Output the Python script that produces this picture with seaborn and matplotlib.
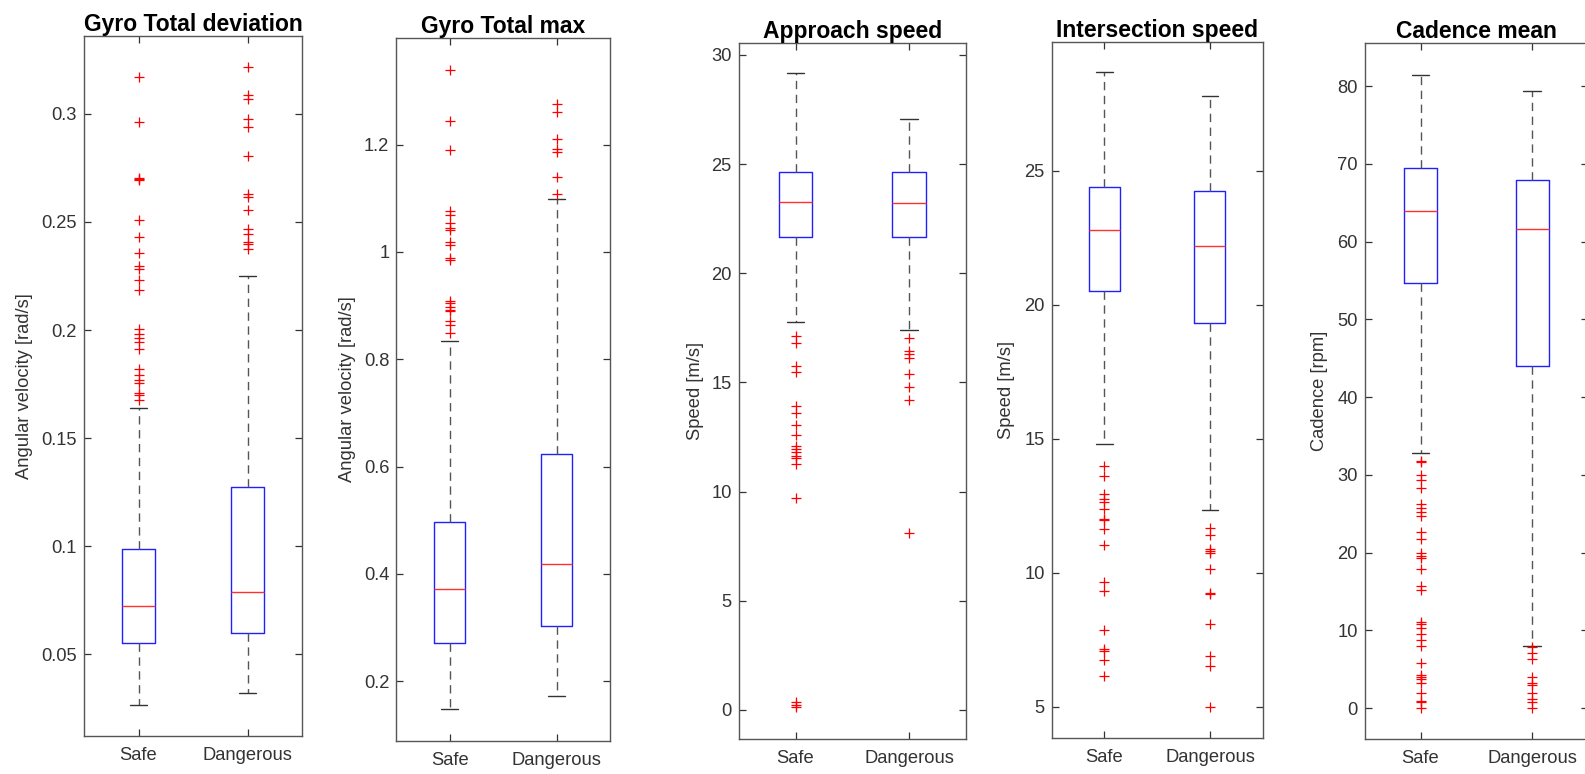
import matplotlib
matplotlib.use("Agg")
import matplotlib.pyplot as plt
from matplotlib.ticker import FuncFormatter
import numpy as np
import pandas as pd
import seaborn as sns

# ---- data -------------------------------------------------------------
groups = ["Safe", "Dangerous"]

titles = ["Gyro Total deviation", "Gyro Total max", "Approach speed",
          "Intersection speed", "Cadence mean"]
ylabels = ["Angular velocity [rad/s]", "Angular velocity [rad/s]",
           "Speed [m/s]", "Speed [m/s]", "Cadence [rpm]"]

# box summaries: [lower whisker, Q1, median, Q3, upper whisker]
gyro_dev_safe = [0.0267, 0.0552, 0.0725, 0.0988, 0.1637]
gyro_dev_danger = [0.0319, 0.0599, 0.0790, 0.1276, 0.2252]
gyro_max_safe = [0.1478, 0.2720, 0.3726, 0.4975, 0.8336]
gyro_max_danger = [0.1726, 0.3036, 0.4190, 0.6237, 1.0980]
approach_safe = [17.78, 21.68, 23.26, 24.66, 29.16]
approach_danger = [17.40, 21.66, 23.20, 24.66, 27.06]
inter_safe = [14.81, 20.52, 22.78, 24.39, 28.67]
inter_danger = [12.32, 19.33, 22.18, 24.25, 27.80]
cadence_safe = [32.88, 54.63, 63.93, 69.49, 81.45]
cadence_danger = [8.05, 44.00, 61.67, 67.90, 79.40]

# outliers
gyro_dev_safe_out = [0.317, 0.296, 0.2705, 0.270, 0.2695, 0.251, 0.243, 0.2355,
                     0.2295, 0.228, 0.223, 0.2185, 0.2005, 0.198, 0.1965, 0.1945,
                     0.191, 0.182, 0.179, 0.177, 0.1755, 0.1708, 0.1700, 0.1674]
gyro_dev_danger_out = [0.3215, 0.3085, 0.307, 0.2975, 0.294, 0.2805, 0.2628,
                       0.2616, 0.2557, 0.2465, 0.2442, 0.2405, 0.2400, 0.2374]
gyro_max_safe_out = [1.3387, 1.2447, 1.1907, 1.076, 1.0686, 1.0535, 1.044, 1.041,
                     1.018, 1.013, 0.9894, 0.984, 0.909, 0.905, 0.898, 0.891,
                     0.889, 0.871, 0.8646, 0.849]
gyro_max_danger_out = [1.2753, 1.2615, 1.210, 1.192, 1.187, 1.140, 1.1075]
approach_safe_out = [17.14, 16.79, 15.76, 15.49, 13.90, 13.58, 13.06, 12.60, 12.10,
                     11.94, 11.83, 11.64, 11.53, 11.26, 9.73, 0.35, 0.23, 0.12]
approach_danger_out = [17.02, 16.45, 16.30, 16.12, 15.39, 14.77, 14.21, 8.12]
inter_safe_out = [13.97, 13.62, 12.95, 12.73, 12.64, 12.36, 12.01, 11.95, 11.64,
                  11.02, 9.65, 9.30, 7.85, 7.16, 7.07, 6.75, 6.13]
inter_danger_out = [11.66, 11.39, 10.90, 10.80, 10.73, 10.12, 9.24, 9.19, 8.10,
                    6.90, 6.50, 5.0]
cadence_safe_out = [31.76, 31.6, 30.05, 29.4, 28.37, 26.2, 25.7, 25.2, 24.7, 22.65,
                    21.8, 19.9, 19.6, 19.35, 17.9, 15.75, 15.2, 11.1, 10.8, 10.27,
                    9.5, 8.78, 8.05, 5.86, 4.28, 4.06, 3.77, 3.21, 1.93, 0.94,
                    0.77, 0.0]
cadence_danger_out = [7.9, 7.15, 6.3, 4.06, 3.2, 3.0, 1.93, 1.16, 0.85, 0.0]

y_ticks = [
    [0.05, 0.1, 0.15, 0.2, 0.25, 0.3],
    [0.2, 0.4, 0.6, 0.8, 1.0, 1.2],
    [0, 5, 10, 15, 20, 25, 30],
    [5, 10, 15, 20, 25],
    [0, 10, 20, 30, 40, 50, 60, 70, 80],
]

# ---- layout -----------------------------------------------------------
W, H = 1585, 774
y_limits = [(0.0122, 0.336), (0.089, 1.398), (-1.33, 30.56), (3.82, 29.81),
            (-3.95, 85.49)]
# axes boxes in pixels: left, top, right, bottom
boxes_px = [(84, 36, 302, 736), (396.3, 38.3, 610, 740.7),
            (738.7, 42.7, 966, 739), (1051.7, 41.7, 1262.7, 738.3),
            (1364.7, 43.3, 1588, 739)]
label_x_px = [25, 348, 695, 1006.7, 1320]

sns.set_theme(style="ticks")
plt.rcParams["font.family"] = ["Liberation Sans", "DejaVu Sans"]

ink = "#333333"
fig = plt.figure(figsize=(W / 100, H / 100), dpi=100)

panels = [
    (gyro_dev_safe, gyro_dev_danger, gyro_dev_safe_out, gyro_dev_danger_out),
    (gyro_max_safe, gyro_max_danger, gyro_max_safe_out, gyro_max_danger_out),
    (approach_safe, approach_danger, approach_safe_out, approach_danger_out),
    (inter_safe, inter_danger, inter_safe_out, inter_danger_out),
    (cadence_safe, cadence_danger, cadence_safe_out, cadence_danger_out),
]

for i, (s_stats, d_stats, s_out, d_out) in enumerate(panels):
    l, t, r, b = boxes_px[i]
    ax = fig.add_axes([l / W, 1 - b / H, (r - l) / W, (b - t) / H])

    # outliers as red plus markers
    df = pd.DataFrame({
        "group": [groups[0]] * len(s_out) + [groups[1]] * len(d_out),
        "value": list(s_out) + list(d_out),
    })
    sns.stripplot(data=df, x="group", y="value", order=groups, jitter=False,
                  marker="+", color="red", size=7, linewidth=0.9, ax=ax,
                  zorder=3)

    stats = []
    for lab, st in zip(groups, (s_stats, d_stats)):
        stats.append(dict(label=lab, whislo=st[0], q1=st[1], med=st[2],
                          q3=st[3], whishi=st[4], fliers=[]))
    ax.bxp(stats, positions=[0, 1], widths=0.294, capwidths=0.156,
           showfliers=False, manage_ticks=False, patch_artist=False,
           boxprops=dict(color="#2020ff", linewidth=1.0),
           medianprops=dict(color="#ff3030", linewidth=1.0),
           whiskerprops=dict(color="#555555", linewidth=1.0,
                             linestyle=(0, (6, 4))),
           capprops=dict(color="#333333", linewidth=1.0))

    ax.set_xlim(-0.5, 1.5)
    ax.set_ylim(*y_limits[i])
    ax.set_xticks([0, 1])
    ax.set_xticklabels(groups)
    ax.set_yticks(y_ticks[i])
    ax.yaxis.set_major_formatter(FuncFormatter(lambda v, p: "%g" % v))
    ax.set_xlabel("")
    ax.set_ylabel(ylabels[i], fontsize=13.2, color=ink)
    ax.yaxis.set_label_coords((label_x_px[i] - l) / (r - l), 0.5)
    ax.yaxis.label.set_va("center")
    ax.set_title(titles[i], fontsize=16.5, fontweight="bold", color="black",
                 pad=3.5)

    ax.tick_params(axis="both", direction="in", length=5, width=0.9,
                   colors=ink, labelsize=13.2, top=True, right=True)
    ax.tick_params(axis="x", pad=8)
    ax.tick_params(axis="y", pad=5)
    for sp in ax.spines.values():
        sp.set_visible(True)
        sp.set_color("#555555")
        sp.set_linewidth(1.0)
    ax.grid(False)

fig.savefig("out.png", dpi=100, facecolor="white")
